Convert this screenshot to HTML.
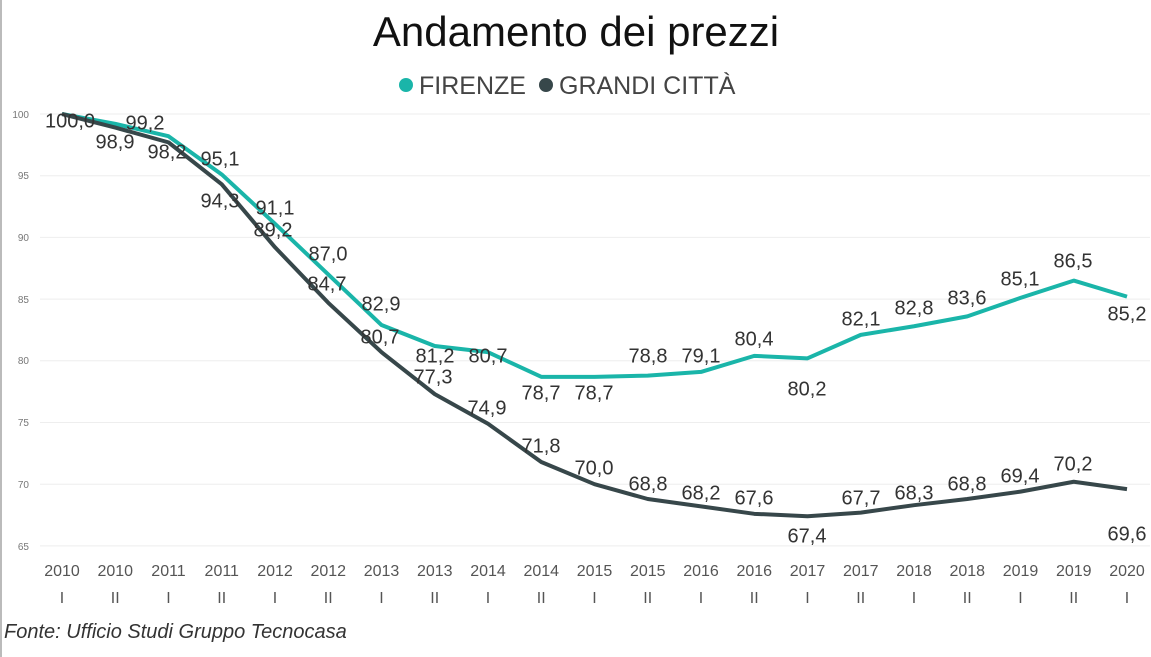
<!DOCTYPE html>
<html><head><meta charset="utf-8"><style>
body{margin:0;background:#fff}
svg{display:block;font-family:"Liberation Sans",sans-serif}
</style></head><body>
<svg width="1151" height="657" viewBox="0 0 1151 657">
<rect width="1151" height="657" fill="#fff"/>
<line x1="1" y1="0" x2="1" y2="657" stroke="#bbb" stroke-width="2"/>
<text x="576" y="46" font-size="42" text-anchor="middle" fill="#111">Andamento dei prezzi</text>
<circle cx="406" cy="85" r="7" fill="#1ab5a9"/>
<text x="419" y="94" font-size="25" fill="#444">FIRENZE</text>
<circle cx="546" cy="85" r="7" fill="#37474a"/>
<text x="559" y="94" font-size="25" fill="#444">GRANDI CITTÀ</text>
<g stroke="#eee" stroke-width="1">
<line x1="40" x2="1150" y1="114" y2="114"/><line x1="40" x2="1150" y1="175.7" y2="175.7"/>
<line x1="40" x2="1150" y1="237.4" y2="237.4"/><line x1="40" x2="1150" y1="299.1" y2="299.1"/>
<line x1="40" x2="1150" y1="360.8" y2="360.8"/><line x1="40" x2="1150" y1="422.5" y2="422.5"/>
<line x1="40" x2="1150" y1="484.2" y2="484.2"/><line x1="40" x2="1150" y1="545.9" y2="545.9"/>
</g>
<g font-size="10" fill="#777" text-anchor="end">
<text x="29" y="118">100</text><text x="29" y="179">95</text><text x="29" y="241">90</text>
<text x="29" y="303">85</text><text x="29" y="364">80</text><text x="29" y="426">75</text>
<text x="29" y="488">70</text><text x="29" y="550">65</text>
</g>
<g id="lines"></g>
<g id="labs" font-size="20" fill="#333" text-anchor="middle" dominant-baseline="middle"></g>
<g id="xax" font-size="16" fill="#555" text-anchor="middle"></g>
<text x="4" y="638" font-size="20" font-style="italic" fill="#333">Fonte: Ufficio Studi Gruppo Tecnocasa</text>
<script>
var f=[100,99.2,98.2,95.1,91.1,87.0,82.9,81.2,80.7,78.7,78.7,78.8,79.1,80.4,80.2,82.1,82.8,83.6,85.1,86.5,85.2];
var g=[100,98.9,97.7,94.3,89.2,84.7,80.7,77.3,74.9,71.8,70.0,68.8,68.2,67.6,67.4,67.7,68.3,68.8,69.4,70.2,69.6];
function X(i){return 62+i*53.25}function Y(v){return 114+(100-v)*12.34}
var ns="http://www.w3.org/2000/svg";
function pl(d,c){var p=document.createElementNS(ns,"polyline");p.setAttribute("points",d.map(function(v,i){return X(i)+","+Y(v)}).join(" "));p.setAttribute("fill","none");p.setAttribute("stroke",c);p.setAttribute("stroke-width","4");p.setAttribute("stroke-linejoin","round");document.getElementById("lines").appendChild(p)}
pl(f,"#1ab5a9");pl(g,"#37474a");
var L=[["100,0",70,122],["99,2",145,124],["98,9",115,143],["98,2",167,153],["95,1",220,160],["94,3",220,202],["91,1",275,209],["89,2",273,231],["87,0",328,255],["84,7",327,285],["82,9",381,305],["80,7",380,338],["81,2",435,357],["80,7",488,357],["77,3",433,378],["74,9",487,409],["78,7",541,394],["78,7",594,394],["71,8",541,447],["78,8",648,357],["79,1",701,357],["80,4",754,340],["80,2",807,390],["70,0",594,469],["68,8",648,485],["68,2",701,494],["67,6",754,499],["67,4",807,537],["67,7",861,499],["68,3",914,494],["68,8",967,485],["69,4",1020,477],["70,2",1073,465],["69,6",1127,535],["82,1",861,320],["82,8",914,309],["83,6",967,299],["85,1",1020,280],["86,5",1073,262],["85,2",1127,315]];
var lg=document.getElementById("labs");
L.forEach(function(a){var t=document.createElementNS(ns,"text");t.setAttribute("x",a[1]);t.setAttribute("y",a[2]);t.textContent=a[0];lg.appendChild(t)});
var xa=document.getElementById("xax");
for(var i=0;i<21;i++){var yr=2010+Math.floor(i/2);var t=document.createElementNS(ns,"text");t.setAttribute("x",X(i));t.setAttribute("y",576);t.textContent=yr;xa.appendChild(t);
var s=document.createElementNS(ns,"text");s.setAttribute("x",X(i));s.setAttribute("y",603);s.textContent=i%2?"II":"I";xa.appendChild(s);}
</script>
</svg>
</body></html>
